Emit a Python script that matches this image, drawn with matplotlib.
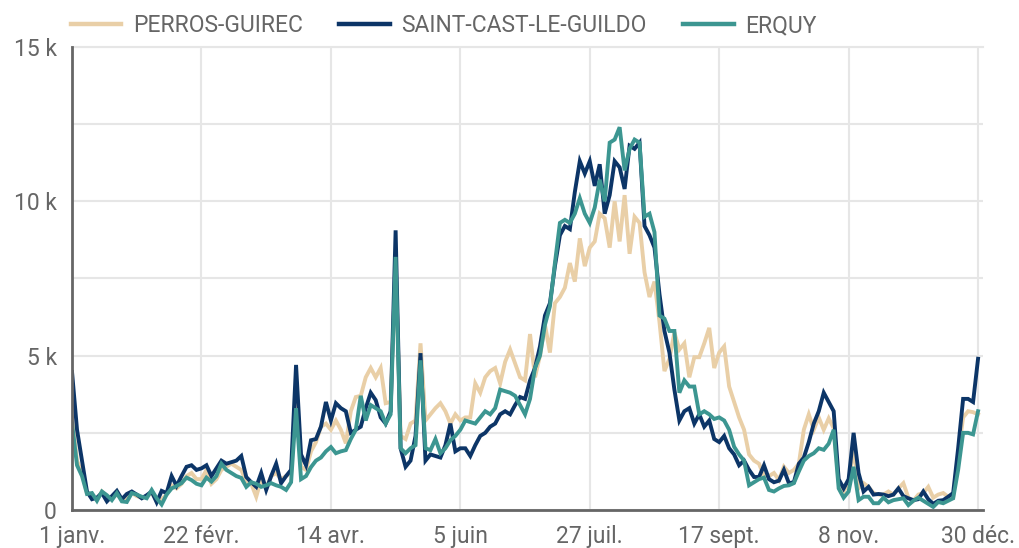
'''
Daily visitor counts for three towns of the Côtes-d'Armor coast (2024).
'''

import numpy as np
import pandas as pd
from matplotlib import pyplot as plt
import matplotlib.dates as mdates
from matplotlib.ticker import MultipleLocator, FuncFormatter

plt.rcParams['font.family'] = ['Roboto', 'DejaVu Sans']

BEIGE = '#E9CFA7'
NAVY = '#0C3567'
TEAL = '#3C9691'
TEXT = '#666666'
GRID = '#E6E6E6'

# one value every two days, in thousands
dates = pd.date_range('2024-01-01', '2024-12-30', freq='2D')

perros_guirec = [
    3.0, 1.6, 1.2, 0.55, 0.45, 0.35, 0.6, 0.45, 0.4, 0.5,
    0.35, 0.4, 0.55, 0.45, 0.4, 0.45, 0.55, 0.3, 0.35, 0.5,
    0.8, 0.7, 0.85, 1.1, 1.2, 1.0, 1.0, 1.3, 0.85, 1.0,
    1.3, 1.4, 1.5, 1.4, 1.3, 0.9, 0.85, 0.43, 1.0, 0.7,
    1.1, 1.2, 1.0, 1.1, 1.2, 3.6, 1.4, 1.3, 1.9, 2.2,
    2.7, 2.8, 2.6, 2.9, 2.6, 2.16, 3.2, 3.66, 3.7, 4.3,
    4.6, 4.3, 4.6, 3.46, 3.5, 8.0, 2.4, 2.3, 2.8, 2.9,
    5.4, 2.9, 3.1, 3.3, 3.46, 3.2, 2.8, 3.1, 2.9, 3.0,
    3.0, 4.1, 3.8, 4.3, 4.5, 4.6, 4.1, 4.8, 5.2, 4.75,
    4.3, 4.2, 5.7, 4.3, 5.0, 6.0, 5.1, 6.7, 6.9, 7.2,
    8.0, 7.4, 8.8, 7.9, 8.5, 8.7, 9.6, 9.45, 8.5, 10.0,
    8.7, 10.2, 8.3, 9.5, 9.3, 7.7, 6.9, 7.4, 6.1, 4.5,
    4.9, 5.75, 5.2, 5.4, 4.3, 4.95, 4.95, 5.4, 5.9, 4.6,
    5.1, 5.3, 4.0, 3.5, 3.0, 2.6, 1.8, 1.6, 1.5, 1.1,
    1.1, 1.2, 0.97, 1.4, 1.2, 1.3, 1.5, 2.6, 3.1, 2.6,
    3.0, 2.6, 2.97, 2.65, 0.9, 0.6, 0.9, 2.0, 0.7, 0.87,
    0.75, 0.55, 0.5, 0.5, 0.6, 0.5, 0.7, 0.87, 0.4, 0.3,
    0.5, 0.55, 0.75, 0.4, 0.5, 0.55, 0.43, 0.4, 1.8, 3.0,
    3.2, 3.17, 3.1,
]

saint_cast = [
    4.47, 2.6, 1.6, 0.6, 0.35, 0.4, 0.55, 0.28, 0.45, 0.62,
    0.35, 0.52, 0.6, 0.5, 0.38, 0.48, 0.6, 0.25, 0.62, 0.55,
    1.1, 0.78, 1.1, 1.4, 1.45, 1.3, 1.35, 1.45, 1.1, 1.35,
    1.6, 1.5, 1.55, 1.6, 1.75, 1.07, 0.9, 0.75, 1.2, 0.65,
    1.1, 1.5, 0.87, 1.1, 1.3, 4.7, 1.8, 1.45, 2.26, 2.3,
    2.7, 3.5, 2.9, 3.46, 3.3, 3.2, 2.5, 2.6, 2.7, 3.3,
    3.8, 3.56, 3.0, 2.8, 3.2, 9.06, 2.0, 1.4, 1.6, 2.4,
    5.08, 1.6, 1.8, 1.75, 1.7, 2.1, 2.8, 1.9, 2.0, 2.0,
    1.75, 2.1, 2.4, 2.5, 2.7, 2.8, 3.1, 3.2, 3.1, 3.4,
    3.66, 3.6, 4.2, 4.6, 5.3, 6.3, 6.7, 7.9, 8.9, 9.2,
    9.1, 10.3, 11.3, 10.9, 11.3, 10.5, 11.2, 9.6, 10.2, 11.3,
    11.1, 10.4, 11.8, 11.7, 11.9, 9.2, 8.9, 8.5, 7.0, 5.8,
    5.1, 3.9, 2.9, 3.2, 3.3, 2.8, 3.1, 2.7, 2.9, 2.3,
    2.2, 2.4, 2.0, 1.8, 1.45, 1.6, 1.3, 1.07, 1.07, 1.45,
    1.0, 0.9, 0.95, 1.3, 0.87, 0.9, 1.5, 1.7, 2.2, 2.8,
    3.2, 3.8, 3.5, 3.2, 1.0, 0.7, 1.0, 2.5, 1.2, 0.6,
    0.75, 0.5, 0.52, 0.5, 0.45, 0.5, 0.7, 0.45, 0.38, 0.32,
    0.35, 0.6, 0.35, 0.2, 0.3, 0.32, 0.43, 0.55, 2.0, 3.6,
    3.6, 3.5, 4.9,
]

erquy = [
    2.8, 1.45, 1.1, 0.52, 0.55, 0.3, 0.6, 0.48, 0.32, 0.55,
    0.28, 0.26, 0.55, 0.5, 0.43, 0.38, 0.65, 0.38, 0.18, 0.5,
    0.7, 0.78, 0.87, 1.05, 0.97, 0.85, 0.8, 1.05, 0.92, 1.1,
    1.5, 1.3, 1.2, 1.1, 1.04, 0.75, 0.9, 0.85, 0.75, 0.8,
    0.87, 0.8, 0.75, 0.65, 0.9, 3.3, 1.0, 1.1, 1.39, 1.6,
    1.7, 1.9, 2.04, 1.84, 1.9, 1.94, 2.3, 2.6, 3.7, 2.9,
    3.4, 3.3, 3.2, 2.8, 3.1, 8.2, 2.0, 1.84, 2.0, 2.1,
    4.85, 2.0, 1.94, 2.3, 1.84, 2.0, 2.26, 2.4, 2.6, 2.9,
    2.85, 2.8, 3.0, 3.2, 3.1, 3.3, 3.9, 3.85, 3.8, 3.7,
    3.4, 3.1, 3.6, 4.6, 5.0, 6.0, 6.6, 8.0, 9.3, 9.4,
    9.3, 9.6, 10.1, 9.6, 9.3, 9.8, 10.7, 10.0, 11.9, 12.0,
    12.4, 11.0, 11.7, 12.0, 11.9, 9.5, 9.6, 9.0, 6.3, 6.2,
    5.8, 5.8, 3.8, 4.2, 4.0, 4.0, 3.1, 3.2, 3.1, 2.95,
    3.0, 2.9, 2.6, 2.05, 1.8, 1.6, 0.8, 0.9, 1.0, 1.05,
    0.65, 0.6, 0.7, 0.78, 0.8, 0.87, 1.25, 1.6, 1.75, 1.84,
    2.0, 1.95, 2.15, 2.6, 0.7, 0.4, 0.6, 1.4, 0.32, 0.43,
    0.43, 0.22, 0.22, 0.4, 0.25, 0.32, 0.35, 0.38, 0.16, 0.3,
    0.4, 0.3, 0.2, 0.1, 0.26, 0.22, 0.3, 0.38, 1.3, 2.5,
    2.5, 2.45, 3.2,
]

series_names = ['PERROS-GUIREC', 'SAINT-CAST-LE-GUILDO', 'ERQUY']
series_colors = [BEIGE, NAVY, TEAL]

tick_dates = pd.date_range('2024-01-01', periods=8, freq='52D')
tick_labels = ['1 janv.', '22 févr.', '14 avr.', '5 juin',
               '27 juil.', '17 sept.', '8 nov.', '30 déc.']


def k_format(v, pos):
    if v == 0:
        return '0'
    return '%d k' % v


fig = plt.figure(figsize=(10.19, 5.48), dpi=100)
ax = fig.add_axes([0.0707, 0.0693, 0.894, 0.845])

for values, name, color in zip([perros_guirec, saint_cast, erquy],
                               series_names, series_colors):
    ax.plot(dates, values, color=color, lw=2.8, label=name,
            solid_joinstyle='miter')

ax.set_xlim(pd.Timestamp('2024-01-01'), pd.Timestamp('2025-01-01'))
ax.set_ylim(0, 15)

ax.set_xticks(tick_dates)
ax.set_xticklabels(tick_labels)
ax.yaxis.set_major_locator(MultipleLocator(5))
ax.yaxis.set_minor_locator(MultipleLocator(2.5))
ax.yaxis.set_major_formatter(FuncFormatter(k_format))

ax.grid(True, which='both', axis='y', color=GRID, lw=1.5, zorder=0)
ax.grid(True, which='major', axis='x', color=GRID, lw=1.5, zorder=0)
ax.set_axisbelow(True)

ax.tick_params(axis='both', which='both', length=0, labelsize=16.5,
               colors=TEXT)
ax.tick_params(axis='y', pad=11)
ax.tick_params(axis='x', pad=11)

for side in ['top', 'right']:
    ax.spines[side].set_visible(False)
for side in ['left', 'bottom']:
    ax.spines[side].set_color(TEXT)
    ax.spines[side].set_linewidth(2)
ax.axhline(15, color=GRID, lw=1.5, zorder=0, clip_on=False)

leg = fig.legend(loc='center left', bbox_to_anchor=(71 / 1019, 1 - 26 / 548),
                 ncol=3, frameon=False, fontsize=16.5, handlelength=2.2,
                 handletextpad=0.5, columnspacing=1.6, borderpad=0,
                 borderaxespad=0)
for line in leg.get_lines():
    line.set_linewidth(3.2)
for text in leg.get_texts():
    text.set_color(TEXT)

fig.savefig('out.png', dpi=100)
